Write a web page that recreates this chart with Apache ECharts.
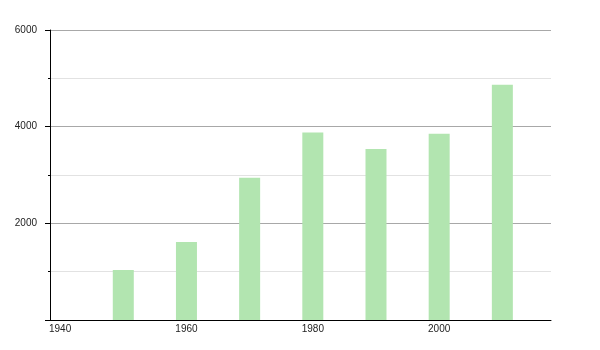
<!DOCTYPE html>
<html>
<head>
<meta charset="utf-8">
<script src="https://cdn.jsdelivr.net/npm/echarts@6/dist/echarts.min.js"></script>
<style>
html,body{margin:0;padding:0;background:#fff;}
#c{width:600px;height:350px;}
</style>
</head>
<body>
<div id="c"></div>
<script>
const years = [1950, 1960, 1970, 1980, 1990, 2000, 2010];
const values = [1036, 1616, 2941, 3880, 3536, 3853, 4868];
const xTickLabels = [1940, 1960, 1980, 2000];

const chart = echarts.init(document.getElementById('c'), null, {renderer: 'canvas'});
chart.setOption({
  animation: false,
  backgroundColor: '#ffffff',
  grid: {left: 50, right: 49, top: 30, bottom: 30},
  xAxis: {
    type: 'value',
    min: 1938.4,
    max: 2017.7,
    axisLine: {show: true, lineStyle: {color: '#000', width: 1}},
    axisTick: {show: false},
    splitLine: {show: false},
    axisLabel: {
      customValues: xTickLabels,
      color: '#222',
      fontSize: 10,
      fontFamily: 'Liberation Sans, Arial, sans-serif',
      margin: 4,
      formatter: v => String(v)
    }
  },
  yAxis: {
    type: 'value',
    min: 0,
    max: 6000,
    interval: 2000,
    axisLine: {show: true, lineStyle: {color: '#000', width: 1}},
    axisTick: {show: true, length: 5, lineStyle: {color: '#000'}},
    minorTick: {show: true, splitNumber: 2, length: 2, lineStyle: {color: '#000'}},
    splitLine: {show: true, lineStyle: {color: '#a8a8a8', width: 1}},
    minorSplitLine: {show: true, lineStyle: {color: '#e2e2e2', width: 1}},
    axisLabel: {
      color: '#222',
      fontSize: 10,
      fontFamily: 'Liberation Sans, Arial, sans-serif',
      margin: 13,
      showMinLabel: false,
      formatter: v => String(v)
    }
  },
  series: [{
    type: 'bar',
    data: years.map((y, i) => [y, values[i]]),
    barWidth: 21,
    itemStyle: {color: '#b2e5b0'}
  }]
});
</script>
</body>
</html>
